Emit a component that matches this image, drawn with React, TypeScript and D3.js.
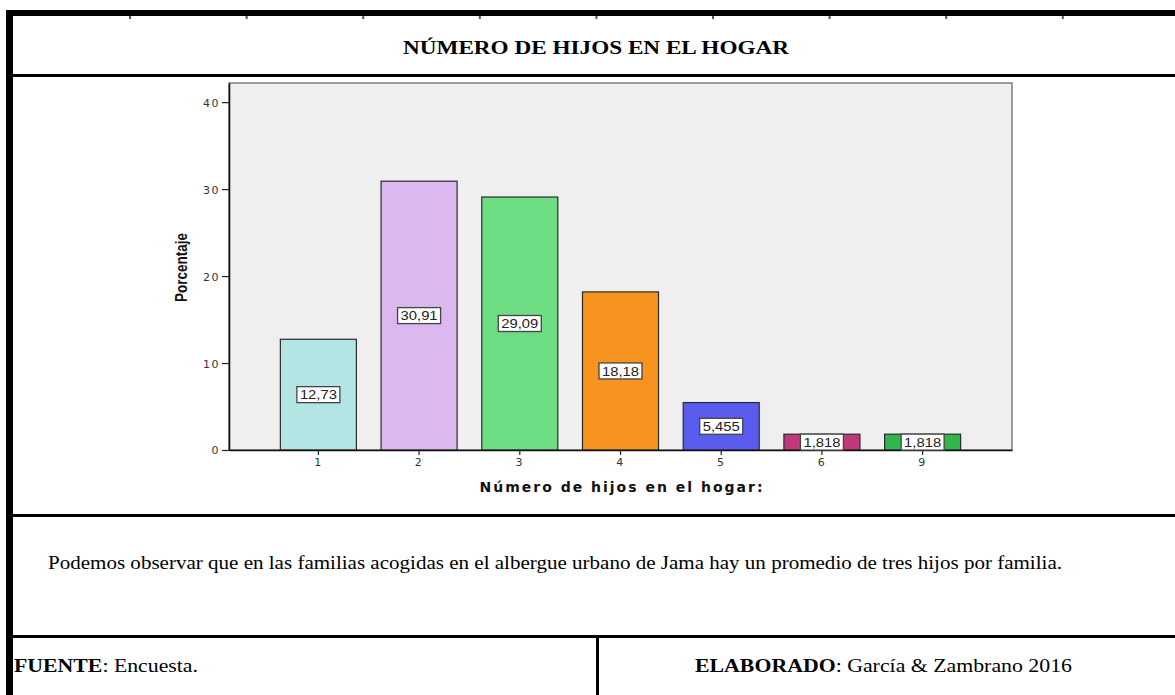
import { useRef, useEffect } from "react";
import * as d3 from "d3";

const WIDTH = 1175;
const HEIGHT = 695;

// plot box of the SPSS chart
const LEFT = 229;
const RIGHT = 1012;
const TOP = 83;
const BOTTOM = 450;

const CATEGORIES = ["1", "2", "3", "4", "5", "6", "9"];
const PERCENTS = [12.73, 30.91, 29.09, 18.18, 5.455, 1.818, 1.818];
const VALUE_LABELS = ["12,73", "30,91", "29,09", "18,18", "5,455", "1,818", "1,818"];
const BAR_COLORS = ["#b3e5e4", "#dcb8f0", "#6edc82", "#f7941f", "#5a5cf0", "#bf3a7b", "#2eb84c"];
const Y_TICKS = [0, 10, 20, 30, 40];

const TITLE = "NÚMERO DE HIJOS EN EL HOGAR";
const X_TITLE = "Número de hijos en el hogar:";
const Y_TITLE = "Porcentaje";
const NOTE = "Podemos observar que en las familias acogidas en el albergue urbano  de Jama hay un promedio de tres hijos por familia.";

const SANS = "'DejaVu Sans', Verdana, sans-serif";
const ARIAL = "'Liberation Sans', Arial, sans-serif";
const SERIF = "'Liberation Serif', 'Times New Roman', serif";

export default function App() {
  const svgRef = useRef<SVGSVGElement>(null);

  useEffect(() => {
    const svg = d3.select(svgRef.current!);
    svg.selectAll("*").remove();

    // ---- table frame
    const frame = svg.append("g").attr("fill", "#000");
    frame.append("rect").attr("x", 6).attr("y", 10).attr("width", 7).attr("height", HEIGHT - 10);
    frame.append("rect").attr("x", 6).attr("y", 10).attr("width", WIDTH - 6).attr("height", 6);
    frame.append("rect").attr("x", 6).attr("y", 74).attr("width", WIDTH - 6).attr("height", 3);
    frame.append("rect").attr("x", 6).attr("y", 514).attr("width", WIDTH - 6).attr("height", 3);
    frame.append("rect").attr("x", 6).attr("y", 635).attr("width", WIDTH - 6).attr("height", 3);
    frame.append("rect").attr("x", 596).attr("y", 635).attr("width", 3).attr("height", HEIGHT - 635);

    // little ruler marks under the top border
    frame.selectAll("rect.mark")
      .data(d3.range(9))
      .enter()
      .append("rect")
      .attr("class", "mark")
      .attr("x", d => 129 + d * 116.6)
      .attr("y", 16)
      .attr("width", 2)
      .attr("height", 3)
      .attr("fill", "#555");

    // title
    svg.append("text")
      .attr("x", 596)
      .attr("y", 54)
      .attr("text-anchor", "middle")
      .attr("font-family", SERIF)
      .attr("font-weight", "bold")
      .attr("font-size", 19.5)
      .attr("textLength", 386)
      .attr("lengthAdjust", "spacingAndGlyphs")
      .text(TITLE);

    // ---- chart
    const x = d3.scaleBand<string>()
      .domain(CATEGORIES)
      .range([LEFT, RIGHT])
      .paddingInner(0.245)
      .paddingOuter(0.51);

    const y = d3.scaleLinear().domain([0, 42.2]).range([BOTTOM, TOP]);

    svg.append("rect")
      .attr("x", LEFT)
      .attr("y", TOP)
      .attr("width", RIGHT - LEFT)
      .attr("height", BOTTOM - TOP)
      .attr("fill", "#efefef")
      .attr("stroke", "#7c7c7c")
      .attr("stroke-width", 1.5);

    const data = CATEGORIES.map((c, i) => ({ c, v: PERCENTS[i], label: VALUE_LABELS[i], fill: BAR_COLORS[i] }));

    svg.append("g")
      .selectAll("rect")
      .data(data)
      .enter()
      .append("rect")
      .attr("x", d => x(d.c)!)
      .attr("y", d => y(d.v))
      .attr("width", x.bandwidth())
      .attr("height", d => y(0) - y(d.v))
      .attr("fill", d => d.fill)
      .attr("stroke", "#2b2b2b")
      .attr("stroke-width", 1.2);

    // axes
    const gy = svg.append("g")
      .attr("transform", `translate(${LEFT},0)`)
      .call(d3.axisLeft(y).tickValues(Y_TICKS).tickSize(7).tickSizeOuter(0).tickPadding(2));
    const gx = svg.append("g")
      .attr("transform", `translate(0,${BOTTOM})`)
      .call(d3.axisBottom(x).tickSize(5).tickSizeOuter(0).tickPadding(3));

    [gx, gy].forEach(g => {
      g.select(".domain").attr("stroke", "#111").attr("stroke-width", 1.6);
      g.selectAll(".tick line").attr("stroke", "#222").attr("stroke-width", 1.2);
      g.selectAll(".tick text")
        .attr("fill", "#333")
        .attr("font-family", SANS)
        .attr("font-size", 11)
        .attr("letter-spacing", 1.5);
    });
    gy.selectAll(".tick text").attr("dy", "0.36em");
    gx.selectAll(".tick text").attr("dy", "0.75em");

    // value labels in white boxes
    const labels = svg.append("g")
      .selectAll("g")
      .data(data)
      .enter()
      .append("g")
      .attr("transform", d => `translate(${x(d.c)! + x.bandwidth() / 2},${(y(0) + y(d.v)) / 2})`);

    labels.append("rect")
      .attr("x", -21.5)
      .attr("y", -8)
      .attr("width", 43)
      .attr("height", 16)
      .attr("fill", "#fff")
      .attr("stroke", "#444")
      .attr("stroke-width", 1.3);

    labels.append("text")
      .attr("text-anchor", "middle")
      .attr("dy", "0.37em")
      .attr("font-family", ARIAL)
      .attr("font-size", 13)
      .attr("textLength", 37)
      .attr("lengthAdjust", "spacingAndGlyphs")
      .attr("fill", "#222")
      .text(d => d.label);

    // axis titles
    svg.append("text")
      .attr("transform", `translate(186.5,267.5) rotate(-90)`)
      .attr("text-anchor", "middle")
      .attr("font-family", "'Liberation Sans Narrow', 'Liberation Sans', Arial, sans-serif")
      .attr("font-weight", "bold")
      .attr("font-size", 17)
      .attr("textLength", 69)
      .attr("lengthAdjust", "spacingAndGlyphs")
      .attr("fill", "#111")
      .text(Y_TITLE);

    svg.append("text")
      .attr("x", 621)
      .attr("y", 492)
      .attr("text-anchor", "middle")
      .attr("font-family", SANS)
      .attr("font-weight", "bold")
      .attr("font-size", 14)
      .attr("textLength", 283)
      .attr("lengthAdjust", "spacing")
      .attr("fill", "#111")
      .text(X_TITLE);

    // ---- comment row
    svg.append("text")
      .attr("x", 48)
      .attr("y", 569)
      .attr("font-family", SERIF)
      .attr("font-size", 19)
      .attr("textLength", 1014)
      .attr("lengthAdjust", "spacingAndGlyphs")
      .text(NOTE);

    // ---- footer
    const fuente = svg.append("text")
      .attr("x", 14)
      .attr("y", 672)
      .attr("font-family", SERIF)
      .attr("font-size", 19)
      .attr("textLength", 184)
      .attr("lengthAdjust", "spacingAndGlyphs");
    fuente.append("tspan").attr("font-weight", "bold").text("FUENTE");
    fuente.append("tspan").text(": Encuesta.");

    const elab = svg.append("text")
      .attr("x", 695)
      .attr("y", 672)
      .attr("font-family", SERIF)
      .attr("font-size", 19)
      .attr("textLength", 377)
      .attr("lengthAdjust", "spacingAndGlyphs");
    elab.append("tspan").attr("font-weight", "bold").text("ELABORADO");
    elab.append("tspan").text(": García & Zambrano 2016");
  }, []);

  return (
    <svg
      ref={svgRef}
      width={WIDTH}
      height={HEIGHT}
      style={{ position: "absolute", left: 0, top: 0, background: "#fff" }}
    />
  );
}
